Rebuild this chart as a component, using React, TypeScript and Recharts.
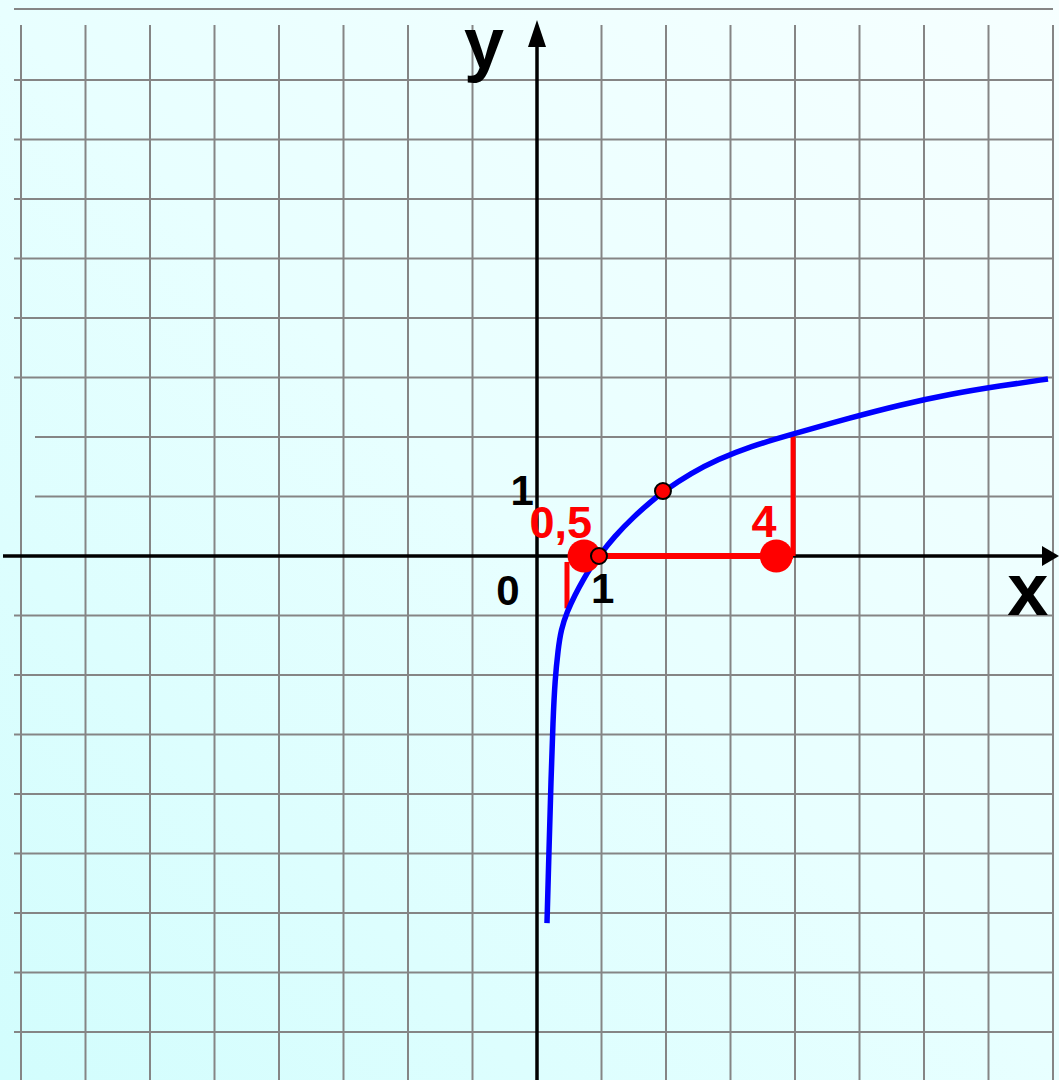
import React from "react";
import {
  ComposedChart,
  XAxis,
  YAxis,
  Line,
  Scatter,
  ReferenceLine,
  ReferenceDot,
} from "recharts";

// grid positions (units)
const xGridValues = [-8, -7, -6, -5, -4, -3, -2, -1, 1, 2, 3, 4, 5, 6, 7, 8];
const yGridValues = [-8, -7, -6, -5, -4, -3, -2, -1, 1, 2, 3, 4, 5, 6, 7, 8];

// the drawn curve
const curveX = [0.155, 0.186, 0.217, 0.248, 0.279, 0.326, 0.372, 0.465, 0.589, 0.713, 0.837, 0.961, 1.2, 1.5, 1.75, 1.953, 2.4, 2.8, 3.3, 3.969, 4.85, 5.63, 6.4, 7.18, 7.922];
const curveY = [-6.17, -4.94, -3.77, -2.76, -2.08, -1.58, -1.24, -0.94, -0.655, -0.403, -0.185, 0, 0.33, 0.66, 0.9, 1.08, 1.4, 1.62, 1.84, 2.05, 2.32, 2.54, 2.72, 2.86, 2.975];

// marked points
const bigDotsX = [0.73, 3.71];
const curvePointX = 1.953;
const curvePointY = 1.092;
const rootX = 0.961;

// labels
const labelTexts = ["y", "x", "0", "1", "1", "0,5", "4"];
const labelX = [-0.82, 7.61, -0.45, 1.02, -0.23, 0.37, 3.52];
const labelY = [8.2, -0.99, -0.82, -0.79, 0.86, 0.3, 0.32];

const W = 1059;
const H = 1080;
const OX = 537;
const OY = 556;
const UX = 64.5;
const UY = 59.5;
const X_DOMAIN: [number, number] = [-OX / UX, (W - OX) / UX];
const Y_DOMAIN: [number, number] = [-(H - OY) / UY, OY / UY];

const curve = curveX.map((x, i) => ({ x, y: curveY[i] }));
const labels = labelTexts.map((text, i) => ({ x: labelX[i], y: labelY[i], text, idx: i }));

const FONT = "'Liberation Sans', Arial, sans-serif";
const GRID = "#858585";

const labelStyle = [
  { size: 72, color: "#000" },
  { size: 74, color: "#000" },
  { size: 42, color: "#000" },
  { size: 42, color: "#000" },
  { size: 42, color: "#000" },
  { size: 45, color: "#ff0000" },
  { size: 45, color: "#ff0000" },
];

const LabelShape = (props: any) => {
  const { cx, cy, payload } = props;
  const st = labelStyle[payload.idx];
  return (
    <text
      x={cx}
      y={cy}
      textAnchor="middle"
      fontFamily={FONT}
      fontWeight="bold"
      fontSize={st.size}
      fill={st.color}
    >
      {payload.text}
    </text>
  );
};

const ArrowRight = (props: any) => {
  const { cx, cy } = props;
  return <polygon points={`${cx},${cy} ${cx - 17},${cy - 10} ${cx - 17},${cy + 10}`} fill="#000" />;
};
const ArrowUp = (props: any) => {
  const { cx, cy } = props;
  return <polygon points={`${cx},${cy} ${cx - 9},${cy + 27} ${cx + 9},${cy + 27}`} fill="#000" />;
};

const topY = (OY - 25) / UY;
const leftX = (14 - OX) / UX;
const rightX = (1053 - OX) / UX;

export default function App() {
  return (
    <div
      style={{
        position: "absolute",
        left: 0,
        top: 0,
        width: W,
        height: H,
        background: "linear-gradient(45deg, #d2fdfd 0%, #e8ffff 50%, #f6ffff 100%)",
      }}
    >
      <ComposedChart width={W} height={H} margin={{ top: 0, right: 0, bottom: 0, left: 0 }}>
        <XAxis type="number" dataKey="x" domain={X_DOMAIN} allowDataOverflow hide />
        <YAxis type="number" dataKey="y" domain={Y_DOMAIN} allowDataOverflow hide />

        {/* top border line */}
        <ReferenceLine
          segment={[{ x: leftX, y: (OY - 9) / UY }, { x: rightX, y: (OY - 9) / UY }]}
          stroke={GRID}
          strokeWidth={2}
          ifOverflow="visible"
        />
        {xGridValues.map((v) => (
          <ReferenceLine
            key={"vx" + v}
            segment={[{ x: v, y: topY }, { x: v, y: Y_DOMAIN[0] }]}
            stroke={GRID}
            strokeWidth={2}
            ifOverflow="visible"
          />
        ))}
        {yGridValues.map((v) => (
          <ReferenceLine
            key={"hy" + v}
            segment={[{ x: v === 1 || v === 2 ? (35 - OX) / UX : leftX, y: v }, { x: rightX, y: v }]}
            stroke={GRID}
            strokeWidth={2}
            ifOverflow="visible"
          />
        ))}

        {/* axes */}
        <ReferenceLine
          segment={[{ x: (3 - OX) / UX, y: 0 }, { x: (1045 - OX) / UX, y: 0 }]}
          stroke="#000"
          strokeWidth={3.5}
          ifOverflow="visible"
        />
        <ReferenceLine
          segment={[{ x: 0, y: Y_DOMAIN[0] }, { x: 0, y: (OY - 35) / UY }]}
          stroke="#000"
          strokeWidth={3.5}
          ifOverflow="visible"
        />

        {/* red construction lines */}
        <ReferenceLine
          segment={[{ x: rootX, y: 0 }, { x: 3.97, y: 0 }]}
          stroke="#ff0000"
          strokeWidth={6}
          ifOverflow="visible"
        />
        <ReferenceLine
          segment={[{ x: 3.97, y: 0 }, { x: 3.97, y: 2.05 }]}
          stroke="#ff0000"
          strokeWidth={5}
          ifOverflow="visible"
        />
        <ReferenceLine
          segment={[{ x: 0.465, y: -0.1 }, { x: 0.465, y: -0.88 }]}
          stroke="#ff0000"
          strokeWidth={5}
          ifOverflow="visible"
        />

        <Line
          data={curve}
          dataKey="y"
          type="basis"
          stroke="#0000ff"
          strokeWidth={5.5}
          dot={false}
          isAnimationActive={false}
        />

        {bigDotsX.map((x) => (
          <ReferenceDot key={"bd" + x} x={x} y={0} r={16.5} fill="#ff0000" stroke="none" ifOverflow="visible" />
        ))}
        <ReferenceDot x={rootX} y={0} r={8} fill="#ff0000" stroke="#000" strokeWidth={2} ifOverflow="visible" />
        <ReferenceDot x={curvePointX} y={curvePointY} r={8} fill="#ff0000" stroke="#000" strokeWidth={2} ifOverflow="visible" />

        <Scatter
          data={[{ x: X_DOMAIN[1], y: 0 }]}
          dataKey="y"
          shape={ArrowRight}
          isAnimationActive={false}
        />
        <Scatter
          data={[{ x: 0, y: (OY - 20) / UY }]}
          dataKey="y"
          shape={ArrowUp}
          isAnimationActive={false}
        />
        <Scatter data={labels} dataKey="y" shape={LabelShape} isAnimationActive={false} />
      </ComposedChart>
    </div>
  );
}
